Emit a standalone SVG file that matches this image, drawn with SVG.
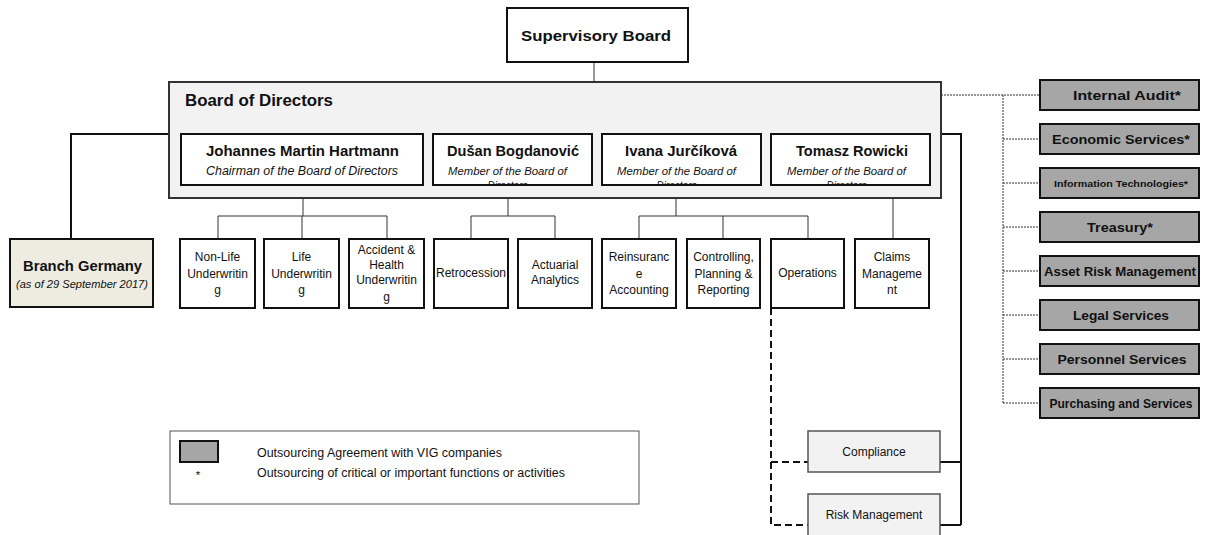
<svg xmlns="http://www.w3.org/2000/svg" width="1208" height="535" viewBox="0 0 1208 535">
<style>
text{font-family:"Liberation Sans",Arial,sans-serif;fill:#111}
.b{font-weight:bold}
.box{fill:#fff;stroke:#111;stroke-width:2}
.gbox{fill:#a6a6a6;stroke:#111;stroke-width:2}
.thin{stroke:#333;stroke-width:1;fill:none}
.thick{stroke:#111;stroke-width:2;fill:none}
.dot{stroke:#333;stroke-width:1;stroke-dasharray:2,1;fill:none}
.dash{stroke:#111;stroke-width:2;stroke-dasharray:7,4;fill:none}
.u{font-size:12px;text-anchor:middle}
.r{font-size:13px;font-weight:bold;text-anchor:middle}
.m{font-size:10px;font-style:italic;text-anchor:middle}
</style>
<defs>
<clipPath id="c2"><rect x="434" y="135" width="157" height="49"/></clipPath>
<clipPath id="c3"><rect x="603" y="135" width="157" height="49"/></clipPath>
<clipPath id="c4"><rect x="772" y="135" width="157" height="49"/></clipPath>
</defs>
<rect width="1208" height="535" fill="#fff"/>

<g id="connectors">
<path class="thin" d="M594 62V116M303 116H846M303 116V134M508 116V134M676 116V134M846 116V134"/>
<path class="thin" d="M303 185V216M218 216H387M218 216V239M302 216V239M387 216V239"/>
<path class="thin" d="M508 185V216M471 216H555M471 216V239M555 216V239"/>
<path class="thin" d="M676 185V216M639 216H808M639 216V239M723 216V239M808 216V239"/>
<path class="thin" d="M893 185V239"/>
<path class="thick" d="M169 134H71V239"/>
<path class="thick" d="M941 134H961V525M940 462H961M940 525H961"/>
<path class="dash" d="M771 308V525H808M771 462H808"/>
<path class="dot" d="M941 95H1040M1003 95V403M1003 139H1040M1003 183H1040M1003 227H1040M1003 271H1040M1003 315H1040M1003 359H1040M1003 403H1040"/>
</g>

<g id="supervisory-board">
<rect class="box" x="507" y="8" width="181" height="54"/>
<text class="b" x="596" y="41" font-size="15.5" text-anchor="middle" textLength="150" lengthAdjust="spacingAndGlyphs">Supervisory Board</text>
</g>

<g id="board-of-directors">
<rect x="169" y="82" width="772" height="116" fill="#f2f2f2" stroke="#333" stroke-width="2"/>
<text class="b" x="185" y="106" font-size="16" textLength="148" lengthAdjust="spacingAndGlyphs">Board of Directors</text>
</g>

<g id="hartmann">
<rect class="box" x="181" y="134" width="242" height="51"/>
<text class="b" x="302.5" y="156" font-size="14" text-anchor="middle" textLength="193" lengthAdjust="spacingAndGlyphs">Johannes Martin Hartmann</text>
<text x="302" y="175" font-size="12" font-style="italic" text-anchor="middle" textLength="192" lengthAdjust="spacingAndGlyphs">Chairman of the Board of Directors</text>
</g>
<g id="bogdanovic">
<rect class="box" x="433" y="134" width="159" height="51"/>
<text class="b" x="513" y="156" font-size="14" text-anchor="middle" textLength="132" lengthAdjust="spacingAndGlyphs">Dušan Bogdanović</text>
<g clip-path="url(#c2)"><text class="m" x="507.5" y="175" textLength="119" lengthAdjust="spacingAndGlyphs">Member of the Board of</text>
<text class="m" x="507.5" y="189">Directors</text></g>
</g>
<g id="jurcikova">
<rect class="box" x="602" y="134" width="159" height="51"/>
<text class="b" x="681" y="156" font-size="14" text-anchor="middle" textLength="112" lengthAdjust="spacingAndGlyphs">Ivana Jurčíková</text>
<g clip-path="url(#c3)"><text class="m" x="676.5" y="175" textLength="119" lengthAdjust="spacingAndGlyphs">Member of the Board of</text>
<text class="m" x="676.5" y="189">Directors</text></g>
</g>
<g id="rowicki">
<rect class="box" x="771" y="134" width="159" height="51"/>
<text class="b" x="852" y="156" font-size="14" text-anchor="middle" textLength="112" lengthAdjust="spacingAndGlyphs">Tomasz Rowicki</text>
<g clip-path="url(#c4)"><text class="m" x="846.5" y="175" textLength="119" lengthAdjust="spacingAndGlyphs">Member of the Board of</text>
<text class="m" x="846.5" y="189">Directors</text></g>
</g>

<g id="branch-germany">
<rect x="10" y="239" width="143" height="68" fill="#eeece1" stroke="#111" stroke-width="2"/>
<text class="b" x="82.5" y="271" font-size="14" text-anchor="middle" textLength="119" lengthAdjust="spacingAndGlyphs">Branch Germany</text>
<text x="82" y="288" font-size="10" font-style="italic" text-anchor="middle" textLength="132" lengthAdjust="spacingAndGlyphs">(as of 29 September 2017)</text>
</g>

<g id="non-life">
<rect class="box" x="180" y="239" width="75" height="69"/>
<text class="u" x="217.5" y="261">Non-Life</text><text class="u" x="217.5" y="278">Underwritin</text><text class="u" x="217.5" y="294">g</text>
</g>
<g id="life">
<rect class="box" x="264" y="239" width="75" height="69"/>
<text class="u" x="301.5" y="261">Life</text><text class="u" x="301.5" y="278">Underwritin</text><text class="u" x="301.5" y="294">g</text>
</g>
<g id="accident-health">
<rect class="box" x="349" y="239" width="75" height="69"/>
<text class="u" x="386.5" y="254">Accident &amp;</text><text class="u" x="386.5" y="269">Health</text><text class="u" x="386.5" y="284">Underwritin</text><text class="u" x="386.5" y="301">g</text>
</g>
<g id="retrocession">
<rect class="box" x="434" y="239" width="74" height="69"/>
<text class="u" x="471" y="277">Retrocession</text>
</g>
<g id="actuarial">
<rect class="box" x="518" y="239" width="74" height="69"/>
<text class="u" x="555" y="269">Actuarial</text><text class="u" x="555" y="284">Analytics</text>
</g>
<g id="reinsurance-accounting">
<rect class="box" x="602" y="239" width="74" height="69"/>
<text class="u" x="639" y="261">Reinsuranc</text><text class="u" x="639" y="278">e</text><text class="u" x="639" y="294">Accounting</text>
</g>
<g id="controlling">
<rect class="box" x="687" y="239" width="73" height="69"/>
<text class="u" x="723.5" y="261">Controlling,</text><text class="u" x="723.5" y="278">Planning &amp;</text><text class="u" x="723.5" y="294">Reporting</text>
</g>
<g id="operations">
<rect class="box" x="771" y="239" width="73" height="69"/>
<text class="u" x="807.5" y="277">Operations</text>
</g>
<g id="claims">
<rect class="box" x="855" y="239" width="74" height="69"/>
<text class="u" x="892" y="261">Claims</text><text class="u" x="892" y="278">Manageme</text><text class="u" x="892" y="294">nt</text>
</g>

<g id="compliance">
<rect x="808" y="431" width="132" height="41" fill="#f2f2f2" stroke="#555" stroke-width="1.5"/>
<text class="u" x="874" y="456">Compliance</text>
</g>
<g id="risk-management">
<rect x="808" y="494" width="132" height="60" fill="#f2f2f2" stroke="#555" stroke-width="1.5"/>
<text class="u" x="874" y="519">Risk Management</text>
</g>

<g id="internal-audit"><rect class="gbox" x="1040" y="80" width="159" height="30"/><text class="r" x="1127" y="100" textLength="108" lengthAdjust="spacingAndGlyphs">Internal Audit*</text></g>
<g id="economic-services"><rect class="gbox" x="1040" y="124" width="159" height="30"/><text class="r" x="1121" y="144" textLength="138" lengthAdjust="spacingAndGlyphs">Economic Services*</text></g>
<g id="information-technologies"><rect class="gbox" x="1040" y="168" width="159" height="30"/><text class="r" x="1121" y="187" style="font-size:9.5px" textLength="134" lengthAdjust="spacingAndGlyphs">Information Technologies*</text></g>
<g id="treasury"><rect class="gbox" x="1040" y="212" width="159" height="30"/><text class="r" x="1120" y="232" textLength="66" lengthAdjust="spacingAndGlyphs">Treasury*</text></g>
<g id="asset-risk-management"><rect class="gbox" x="1040" y="256" width="159" height="30"/><text class="r" x="1120" y="276" textLength="152" lengthAdjust="spacingAndGlyphs">Asset Risk Management</text></g>
<g id="legal-services"><rect class="gbox" x="1040" y="300" width="159" height="30"/><text class="r" x="1121" y="320" textLength="96" lengthAdjust="spacingAndGlyphs">Legal Services</text></g>
<g id="personnel-services"><rect class="gbox" x="1040" y="344" width="159" height="30"/><text class="r" x="1122" y="364" textLength="129" lengthAdjust="spacingAndGlyphs">Personnel Services</text></g>
<g id="purchasing-services"><rect class="gbox" x="1040" y="388" width="159" height="30"/><text class="r" x="1121" y="408" style="font-size:12px" textLength="143" lengthAdjust="spacingAndGlyphs">Purchasing and Services</text></g>

<g id="legend">
<rect x="170" y="431" width="469" height="73" fill="#fff" stroke="#555" stroke-width="1"/>
<rect class="gbox" x="180" y="441" width="38" height="21"/>
<text x="257" y="457" font-size="12" textLength="245" lengthAdjust="spacingAndGlyphs">Outsourcing Agreement with VIG companies</text>
<text x="198" y="479" font-size="11.5" text-anchor="middle">*</text>
<text x="257" y="477" font-size="12" textLength="308" lengthAdjust="spacingAndGlyphs">Outsourcing of critical or important functions or activities</text>
</g>
</svg>
